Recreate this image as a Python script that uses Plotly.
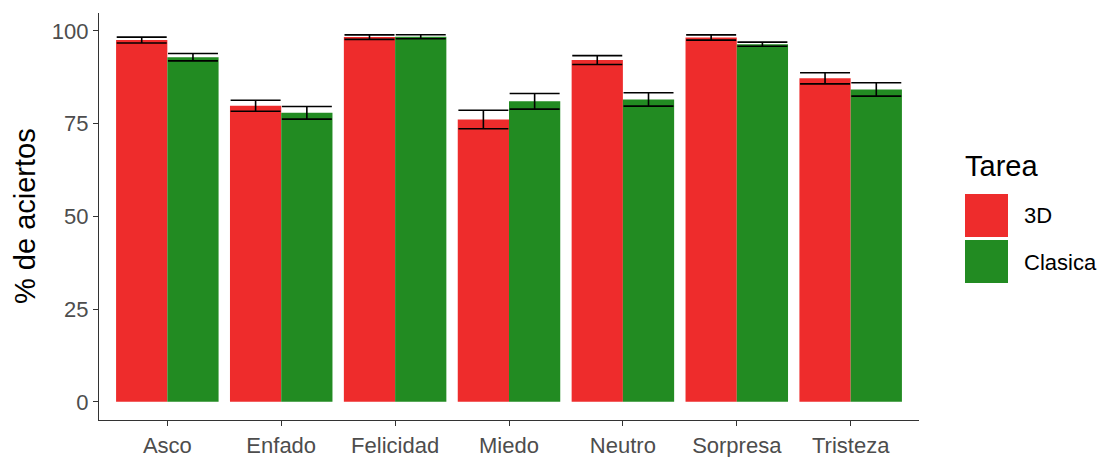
import plotly.graph_objects as go

categories = ["Asco", "Enfado", "Felicidad", "Miedo", "Neutro", "Sorpresa", "Tristeza"]
series_names = ["3D", "Clasica"]
values_3d = [97.5, 79.8, 98.3, 76.1, 92.1, 98.2, 87.2]
errors_3d = [0.8, 1.5, 0.6, 2.5, 1.2, 0.7, 1.5]
values_clasica = [92.9, 77.9, 98.4, 81.0, 81.5, 96.4, 84.2]
errors_clasica = [1.0, 1.7, 0.55, 2.1, 1.8, 0.55, 1.8]
y_ticks = [0, 25, 50, 75, 100]
y_title = "% de aciertos"
legend_title = "Tarea"

colors = ["#EE2C2C", "#228B22"]
FONT = "Liberation Sans, Arial, sans-serif"

fig = go.Figure()
for name, vals, errs, col in [
    (series_names[0], values_3d, errors_3d, colors[0]),
    (series_names[1], values_clasica, errors_clasica, colors[1]),
]:
    fig.add_trace(go.Bar(
        x=categories, y=vals, name=name,
        marker=dict(color=col, line=dict(width=0)),
        error_y=dict(type="data", array=errs, visible=True,
                     color="black", thickness=1.6, width=25),
        showlegend=False,
    ))

# plot area in pixels: x 99..919, y 13..420
L, R, T, B = 99, 919, 13, 420
W, H = 1104, 457
pw, ph = R - L, B - T

def px(x):
    return (x - L) / pw

def py(y):
    return (B - y) / ph

fig.update_layout(
    width=W, height=H,
    margin=dict(l=L, r=W - R, t=T, b=H - B, autoexpand=False),
    paper_bgcolor="white", plot_bgcolor="white",
    barmode="group", bargap=0.1, bargroupgap=0,
    font=dict(family=FONT),
    xaxis=dict(
        range=[-0.6, len(categories) - 0.4],
        automargin=False,
        showline=True, linecolor="#333333", linewidth=1.2,
        ticks="outside", ticklen=5, tickwidth=1.1, tickcolor="#333333",
        tickfont=dict(size=22, color="#4D4D4D", family=FONT),
        showgrid=False, zeroline=False,
    ),
    yaxis=dict(
        range=[-4.9, 104.8],
        automargin=False,
        tickvals=y_ticks,
        showline=True, linecolor="#333333", linewidth=1.2,
        ticks="outside", ticklen=5, tickwidth=1.1, tickcolor="#333333",
        tickfont=dict(size=22, color="#4D4D4D", family=FONT),
        showgrid=False, zeroline=False,
    ),
)

# y-axis title
fig.add_annotation(
    xref="paper", yref="paper", x=px(25), y=py(216),
    text=y_title, textangle=-90, showarrow=False,
    xanchor="center", yanchor="middle",
    font=dict(size=29, color="black", family=FONT),
)

# legend drawn manually (large ggplot-style keys)
fig.add_annotation(
    xref="paper", yref="paper", x=px(963), y=py(166),
    text=legend_title, showarrow=False, xanchor="left", yanchor="middle",
    font=dict(size=29, color="black", family=FONT),
)
key_tops = [194, 240]
for name, col, top in zip(series_names, colors, key_tops):
    fig.add_shape(
        type="rect", xref="paper", yref="paper",
        x0=px(965), x1=px(1008), y0=py(top + 43), y1=py(top),
        fillcolor=col, line=dict(width=0),
    )
    fig.add_annotation(
        xref="paper", yref="paper", x=px(1022), y=py(top + 22),
        text=name, showarrow=False, xanchor="left", yanchor="middle",
        font=dict(size=22, color="black", family=FONT),
    )

fig.write_html(
    "out.html",
    config={"displayModeBar": False},
    post_script="document.body.style.margin='0';document.body.style.overflow='hidden';",
)
